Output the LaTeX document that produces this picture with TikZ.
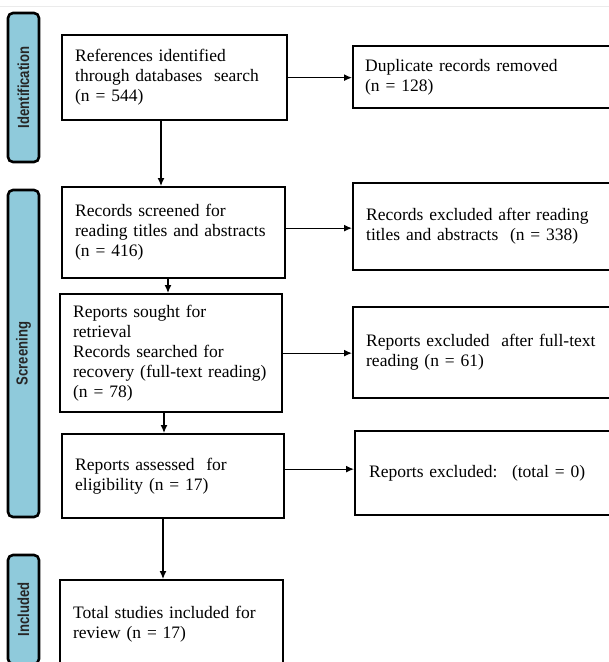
\documentclass[tikz,border=0pt]{standalone}
\usepackage{fontspec}
\setmainfont{Liberation Serif}
\newfontfamily\sidefont{Liberation Sans}
\usetikzlibrary{arrows.meta}
\definecolor{sideblue}{HTML}{8FCADB}
\begin{document}
\begin{tikzpicture}[x=1pt,y=-1pt,
  box/.style={draw=black, line width=2.3pt, fill=white, anchor=north west, align=left,
    inner xsep=13pt, inner ysep=0pt, font=\fontsize{17.5}{20}\selectfont},
  side/.style={draw=black, line width=2.6pt, fill=sideblue, rounded corners=5pt, rotate=90,
    minimum height=31pt, inner sep=0pt, text=black!85,
    font=\sidefont\bfseries\fontsize{16}{16}\selectfont},
  arr/.style={line width=1.3pt, -{Latex[length=8pt,width=7pt]}}]
\path[use as bounding box, clip] (0,0) rectangle (609,662);
\fill[white] (0,0) rectangle (609,662);
\draw[black!8, line width=0.6pt] (0,6) -- (609,6);

% side labels
\node[side, minimum width=149pt] (sid) at (23.5,87.5) {\scalebox{0.82}[1]{Identification}};
\node[side, minimum width=327pt] (sscr) at (23.5,353.5) {\scalebox{0.82}[1]{Screening}};
\node[side, minimum width=109pt] (sinc) at (23.5,609.5) {\scalebox{0.82}[1]{Included}};

% main column
\node[box, text width=199pt, minimum height=85pt] (b1) at (61,34)
  {References identified\\through databases~ search\\(n = 544)};
\node[box, text width=197pt, minimum height=91pt] (b2) at (61,186)
  {Records screened for\\reading titles and abstracts\\(n = 416)};
\node[box, text width=196pt, minimum height=118pt] (b3) at (59,293)
  {Reports sought for\\retrieval\\Records searched for\\recovery (full-text reading)\\(n = 78)};
\node[box, text width=196pt, minimum height=84pt] (b4) at (61,433)
  {Reports assessed~ for\\eligibility (n = 17)};
\node[box, text width=197pt, minimum height=88pt] (b5) at (59,579)
  {Total studies included for\\review (n = 17)};

% right column
\node[box, inner xsep=12pt, text width=246pt, minimum height=62pt] (dup) at (352,45)
  {Duplicate records removed\\(n = 128)};
\node[box, inner xsep=13pt, text width=244pt, minimum height=87pt] (rec) at (352,182)
  {Records excluded after reading\\titles and abstracts~ (n = 338)};
\node[box, inner xsep=13pt, text width=244pt, minimum height=91pt] (rep) at (352,306)
  {Reports excluded~ after full-text\\reading (n = 61)};
\node[box, inner xsep=14pt, text width=240pt, minimum height=84pt] (tot) at (354,430)
  {Reports excluded:~ (total = 0)};

% arrows
\draw[arr] (b1.east) -- (b1.east -| dup.west);
\draw[arr] ([yshift=4.5pt]b2.east) -- ([yshift=4.5pt]b2.east -| rec.west);
\draw[arr] (b3.east) -- (b3.east -| rep.west);
\draw[arr] ([yshift=7pt]b4.east) -- ([yshift=7pt]b4.east -| tot.west);

\draw[arr] ([xshift=100pt]b1.south west) -- ([xshift=100pt]b1.south west |- b2.north);
\draw[arr] ([xshift=107pt]b2.south west) -- ([xshift=107pt]b2.south west |- b3.north);
\draw[arr] ([xshift=105pt]b3.south west) -- ([xshift=105pt]b3.south west |- b4.north);
\draw[arr] ([xshift=102pt]b4.south west) -- ([xshift=102pt]b4.south west |- b5.north);
\end{tikzpicture}
\end{document}
